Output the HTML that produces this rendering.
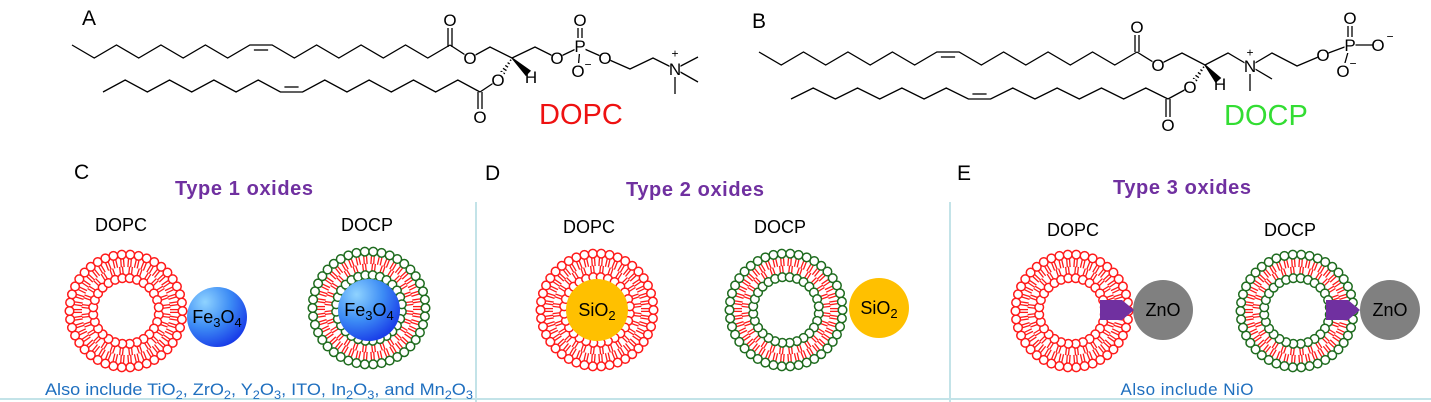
<!DOCTYPE html>
<html><head><meta charset="utf-8"><style>
html,body{margin:0;padding:0;background:#fff;}
svg{display:block;font-family:"Liberation Sans",Arial,sans-serif;}
</style></head><body>
<svg id="s" width="1431" height="402" viewBox="0 0 1431 402" xmlns="http://www.w3.org/2000/svg">
<defs>
<radialGradient id="fe" cx="0.3" cy="0.25" r="0.85">
<stop offset="0" stop-color="#8fd3ff"/><stop offset="0.5" stop-color="#3d8cf5"/><stop offset="1" stop-color="#1432e6"/>
</radialGradient>
</defs>
<g id="chem" stroke="#000" stroke-width="1.3" fill="none"></g>
<g id="atoms"></g>
<g id="lipo"></g>
<g stroke="#c3e3e8" stroke-width="2">
<line x1="476" y1="202" x2="476" y2="402"/>
<line x1="950" y1="202" x2="950" y2="402"/>
<line x1="0" y1="399" x2="1431" y2="399"/>
</g>
<g font-size="21" fill="#000">
<text x="82" y="25">A</text>
<text x="752" y="28">B</text>
<text x="74" y="179">C</text>
<text x="485" y="180">D</text>
<text x="957" y="180">E</text>
</g>
<text x="539" y="124" font-size="29" fill="#ee1111">DOPC</text>
<text x="1224" y="125" font-size="29" fill="#33dd33">DOCP</text>
<g font-size="20" font-weight="bold" fill="#7030a0" text-anchor="middle">
<text x="244" y="195" textLength="138">Type 1 oxides</text>
<text x="695" y="196" textLength="138">Type 2 oxides</text>
<text x="1182" y="194" textLength="138">Type 3 oxides</text>
</g>
<g font-size="18" fill="#000" text-anchor="middle">
<text x="121" y="231">DOPC</text>
<text x="367" y="231">DOCP</text>
<text x="589" y="233">DOPC</text>
<text x="780" y="233">DOCP</text>
<text x="1073" y="236">DOPC</text>
<text x="1290" y="236">DOCP</text>
</g>
<g id="balls"></g>
<g font-size="17" fill="#1f6fbf">
<text x="45" y="395" textLength="428" lengthAdjust="spacingAndGlyphs">Also include TiO<tspan font-size="12" dy="4">2</tspan><tspan dy="-4">, ZrO</tspan><tspan font-size="12" dy="4">2</tspan><tspan dy="-4">, Y</tspan><tspan font-size="12" dy="4">2</tspan><tspan dy="-4">O</tspan><tspan font-size="12" dy="4">3</tspan><tspan dy="-4">, ITO, In</tspan><tspan font-size="12" dy="4">2</tspan><tspan dy="-4">O</tspan><tspan font-size="12" dy="4">3</tspan><tspan dy="-4">, and Mn</tspan><tspan font-size="12" dy="4">2</tspan><tspan dy="-4">O</tspan><tspan font-size="12" dy="4">3</tspan></text>
<text x="1187" y="395" text-anchor="middle" textLength="133">Also include NiO</text>
</g>
</svg>
<script>
var NS="http://www.w3.org/2000/svg";
function el(p,t,a,txt){var e=document.createElementNS(NS,t);for(var k in a)e.setAttribute(k,a[k]);if(txt!==undefined)e.textContent=txt;p.appendChild(e);return e;}
var chem=document.getElementById('chem'),atoms=document.getElementById('atoms');
function L(x1,y1,x2,y2){el(chem,'line',{x1:x1,y1:y1,x2:x2,y2:y2});}
function P(pts){el(chem,'polyline',{points:pts.map(function(p){return p.join(',')}).join(' ')});}
function chain(x0,x1,ys,yo,n,k,inner){
 var dx=(x1-x0)/n,pts=[];
 for(var i=0;i<=n;i++){var j=i<=k?i:i-1;pts.push([x0+i*dx,(j%2==0)?ys:yo]);}
 P(pts);
 var a=pts[k],b=pts[k+1];L(a[0]+4,a[1]+inner,b[0]-4,b[1]+inner);
}
function dbl(x1,y1,x2,y2){var dx=x2-x1,dy=y2-y1,l=Math.sqrt(dx*dx+dy*dy),nx=-dy/l*2,ny=dx/l*2;L(x1+nx,y1+ny,x2+nx,y2+ny);L(x1-nx,y1-ny,x2-nx,y2-ny);}
function T(x,y,s,fs,bg){fs=fs||17;
 if(bg!==false)el(atoms,'rect',{x:x-5.5,y:y-8,width:11,height:16,fill:'#fff'});
 el(atoms,'text',{x:x,y:y+fs*0.36,'text-anchor':'middle','font-size':fs,fill:'#000'},s);}
function wedge(x1,y1,x2,y2){var dx=x2-x1,dy=y2-y1,l=Math.sqrt(dx*dx+dy*dy),nx=-dy/l*3,ny=dx/l*3;el(chem,'polygon',{points:x1+','+y1+' '+(x2+nx)+','+(y2+ny)+' '+(x2-nx)+','+(y2-ny),fill:'#000'});}
function hash(x1,y1,x2,y2){for(var t=0.1;t<=0.95;t+=0.14){var x=x1+(x2-x1)*t,y=y1+(y2-y1)*t,dx=x2-x1,dy=y2-y1,l=Math.sqrt(dx*dx+dy*dy),w=0.5+3*t,nx=-dy/l*w,ny=dx/l*w;L(x+nx,y+ny,x-nx,y-ny);}}
// A
chain(72,450,45,58,17,8,5);
chain(103,480,92,80,17,8,-5);
dbl(450,47,450,22);
P([[450,45],[470,58],[490,47],[512,58],[535,47],[557,58],[580,47]]);
dbl(580,47,580,22); L(580,47,578,70);
P([[580,47],[605,58],[630,69],[653,58],[675,69]]);
L(675,69,698,57);L(675,69,698,82);L(675,69,675,94);
wedge(512,58,528,73); hash(512,58,498,80);
L(498,80,480,92); dbl(480,92,480,117);
T(450,20,'O');T(470,58,'O');T(557,58,'O');T(580,46,'P');T(580,20,'O');T(578,71,'O');T(605,58,'O');T(675,69,'N');T(531,77,'H',17,false);T(498,80,'O');T(480,117,'O');
T(675,53,'+',12,false);T(588,64,'\u2212',12,false);
// B
chain(759,1137,52,65,17,8,5);
chain(791,1168,99,88,17,8,-5);
dbl(1137,52,1137,28);
P([[1137,52],[1158,65],[1182,53],[1205,65],[1228,53],[1250,66]]);
L(1250,66,1272,79);L(1250,66,1250,91);
P([[1250,66],[1272,53],[1297,66],[1323,55],[1350,45]]);
dbl(1350,45,1350,20);L(1350,45,1377,45);L(1350,45,1343,70);
wedge(1205,65,1218,80); hash(1205,65,1190,87);
L(1190,87,1168,99); dbl(1168,99,1168,124);
T(1137,27,'O');T(1158,65,'O');T(1250,66,'N');T(1220,84,'H',17,false);T(1190,87,'O');T(1168,125,'O');T(1323,55,'O');T(1350,45,'P');T(1350,18,'O');T(1378,45,'O');T(1343,71,'O');
T(1250,52,'+',12,false);T(1390,36,'\u2212',12,false);T(1353,63,'\u2212',12,false);
// liposomes
var lipo=document.getElementById('lipo');
var RED='#ff1a1a',GRN='#1e6b1e';
function liposome(cx,cy,oc,ic){
 var g=el(lipo,'g',{});
 var no=42,ni=28;
 for(var i=0;i<no;i++){var a=i/no*2*Math.PI,c=Math.cos(a),s=Math.sin(a);
  for(var d=-1.4;d<=1.4;d+=2.8){el(g,'line',{x1:cx+c*52-s*d,y1:cy+s*52+c*d,x2:cx+c*44-s*d,y2:cy+s*44+c*d,stroke:RED,'stroke-width':1.3});}
 }
 for(var i=0;i<ni;i++){var a=(i+0.5)/ni*2*Math.PI,c=Math.cos(a),s=Math.sin(a);
  for(var d=-1.4;d<=1.4;d+=2.8){el(g,'line',{x1:cx+c*37-s*d,y1:cy+s*37+c*d,x2:cx+c*44.5-s*d,y2:cy+s*44.5+c*d,stroke:RED,'stroke-width':1.3});}
 }
 for(var i=0;i<no;i++){var a=i/no*2*Math.PI;el(g,'circle',{cx:cx+Math.cos(a)*56.5,cy:cy+Math.sin(a)*56.5,r:4.3,fill:'#fff',stroke:oc,'stroke-width':1.5});}
 for(var i=0;i<ni;i++){var a=(i+0.5)/ni*2*Math.PI;el(g,'circle',{cx:cx+Math.cos(a)*33,cy:cy+Math.sin(a)*33,r:4.3,fill:'#fff',stroke:ic,'stroke-width':1.5});}
}
liposome(126,311,RED,RED);
liposome(369,308,GRN,GRN);
liposome(597,310,RED,RED);
liposome(786,310,GRN,GRN);
liposome(1072,311,RED,RED);
liposome(1297,311,GRN,GRN);
// balls
var balls=document.getElementById('balls');
function ball(cx,cy,r,fill,parts){
 el(balls,'circle',{cx:cx,cy:cy,r:r,fill:fill});
 var t=el(balls,'text',{x:cx,y:cy+6,'text-anchor':'middle','font-size':18,fill:'#000'});
 parts.forEach(function(p){el(t,'tspan',p.sub?{'font-size':13,dy:4}:{dy:p.back?-4:0},p.s);});
}
ball(217,317,30,'url(#fe)',[{s:'Fe'},{s:'3',sub:1},{s:'O',back:1},{s:'4',sub:1}]);
ball(369,310,31,'url(#fe)',[{s:'Fe'},{s:'3',sub:1},{s:'O',back:1},{s:'4',sub:1}]);
ball(597,310,31,'#ffc000',[{s:'SiO'},{s:'2',sub:1}]);
ball(879,308,30,'#ffc000',[{s:'SiO'},{s:'2',sub:1}]);
ball(1163,310,30,'#808080',[{s:'ZnO'}]);
ball(1390,310,30,'#808080',[{s:'ZnO'}]);
function arrow(x,y){el(balls,'polygon',{points:x+','+(y-10)+' '+(x+22)+','+(y-10)+' '+(x+34)+','+y+' '+(x+22)+','+(y+10)+' '+x+','+(y+10),fill:'#7030a0'});}
arrow(1100,310);arrow(1326,310);
</script>
</body></html>
